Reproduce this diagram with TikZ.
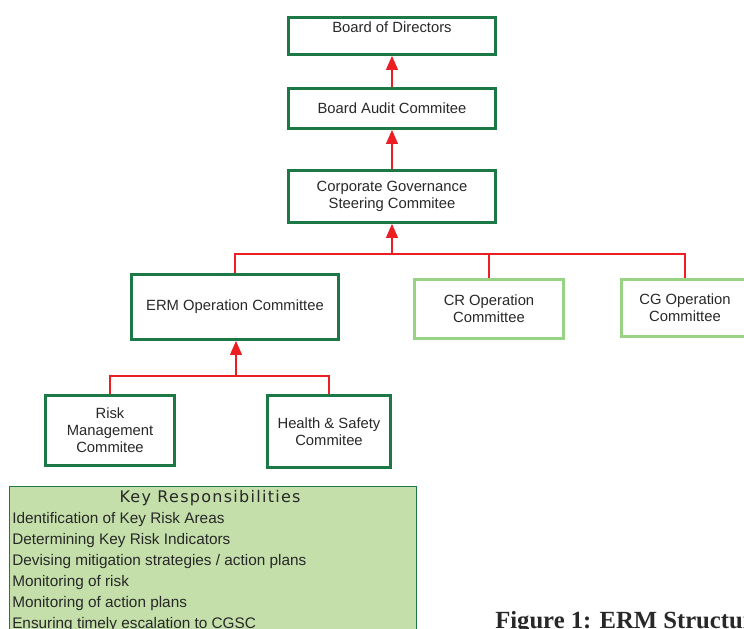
\documentclass[tikz,border=0pt]{standalone}
\usepackage{fontspec}
\setmainfont{Liberation Sans}
\newfontfamily\headfont[LetterSpace=8.0]{DejaVu Sans}
\newfontfamily\capfont{Liberation Serif}
\usetikzlibrary{arrows.meta}

\definecolor{boxgreen}{RGB}{28,120,68}
\definecolor{palegreen}{RGB}{152,210,132}
\definecolor{notefill}{RGB}{196,223,170}
\definecolor{linkred}{RGB}{236,30,36}
\definecolor{inkgray}{RGB}{40,40,40}

\tikzset{
  unit/.style={draw=boxgreen, line width=2.2pt, align=center, text=inkgray,
    font=\fontsize{11.1}{12.8}\selectfont},
  subunit/.style={unit, draw=palegreen},
  link/.style={draw=linkred, line width=0.8pt},
  uplink/.style={link, -{Triangle[length=10.5pt,width=9pt]}},
  duty/.style={anchor=base west, text=inkgray, inner sep=0pt,
    font=\fontsize{11.5}{12}\selectfont},
}

\begin{document}
\begin{tikzpicture}[x=0.75pt, y=-0.75pt]
        \path[use as bounding box] (0,0) rectangle (744,629);
        \clip (0,0) rectangle (744,629);

        % top of the chain
        \node [unit, minimum width=155.25pt, minimum height=27.75pt, text depth=13pt] (bod) at (392, 36) {Board of Directors};
        \node [unit, minimum width=155.25pt, minimum height=30pt] (bac) at (392, 108.5) {Board Audit Commitee};
        \node [unit, minimum width=155.25pt, minimum height=39pt] (cgsc) at (392, 196.5) {Corporate Governance\\Steering Commitee};

        % operation committees
        \node [unit, minimum width=155.25pt, minimum height=48.75pt] (erm) at (235, 307) {ERM Operation Committee};
        \node [subunit, minimum width=111.75pt, minimum height=44.25pt] (cr) at (489, 309) {CR Operation\\Committee};
        \node [subunit, minimum width=95.25pt, minimum height=42.75pt] (cg) at (685, 308) {CG Operation\\Committee};

        % under ERM
        \node [unit, minimum width=96.75pt, minimum height=52.5pt] (rm) at (110, 430.5) {Risk\\Management\\Commitee};
        \node [unit, minimum width=92.25pt, minimum height=54pt] (hs) at (329, 431.5) {Health \& Safety\\Commitee};

        \coordinate (top) at (392, 254);
        \coordinate (low) at (236, 376);

        \draw[uplink] (bac.north) -- (bod.south);
        \draw[uplink] (cgsc.north) -- (bac.south);
        \draw[link] (erm.north) |- (top) -| (cg.north);
        \draw[link] (cr.north) |- (top);
        \draw[uplink] (top) -- (cgsc.south);
        \draw[link] (rm.north) |- (low) -| (hs.north);
        \draw[uplink] (low) -- (low |- erm.south);

        % responsibilities panel
        \node [draw=boxgreen, fill=notefill, line width=1.2pt, anchor=north west,
               minimum width=305.25pt, minimum height=120pt] (keys) at (8.5, 485.5) {};
        \node [text=inkgray, font=\headfont\fontsize{12}{13}\selectfont, anchor=base] (keyhead) at (210, 502) {Key Responsibilities};
        \foreach \item [count=\i from 0] in {Identification of Key Risk Areas,
            Determining Key Risk Indicators,
            Devising mitigation strategies / action plans,
            Monitoring of risk,
            Monitoring of action plans,
            Ensuring timely escalation to CGSC}
          \node [duty] (duty\i) at (12, 523.5 + 21*\i) {\item};

        \node [anchor=base west, inner sep=0pt, text=inkgray, font=\capfont\bfseries\fontsize{18.5}{20}\selectfont] (caption) at (495, 628) {Figure 1: ERM Structure};
\end{tikzpicture}
\end{document}
